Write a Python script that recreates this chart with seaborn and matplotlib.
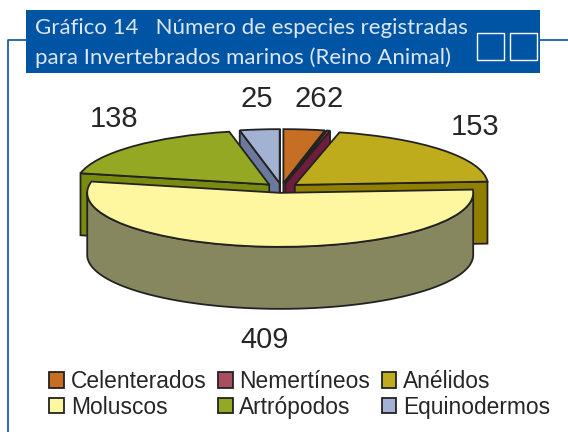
import numpy as np
import matplotlib
matplotlib.use('Agg')
import matplotlib.pyplot as plt
import seaborn as sns
from matplotlib.lines import Line2D
from matplotlib.patches import Rectangle

sns.set_theme(style='white', rc={'font.family': ['Liberation Sans', 'DejaVu Sans']})

## Data.
categories = ['Celenterados', 'Nemertíneos', 'Anélidos', 'Moluscos', 'Artrópodos', 'Equinodermos']
species = [26, 2, 153, 409, 138, 25]

## Palettes.
top_colors = sns.color_palette(['#C76E25', '#A84E60', '#BFAC1C', '#FFF6A0', '#95A823', '#A3B2D3'])
side_colors = sns.color_palette(['#8A4F18', '#6F1D3D', '#918000', '#87875F', '#7A8C10', '#6B7A9C'])
edge = '#222222'
blue = '#0054A4'

## Layout, in pixels of the 568x432 canvas.
W, H = 568, 432
cx, cy, rx, ry = 281.5, 188, 193, 54
depth = 62 / ry
label_xy = [(311, 99), (335, 99), (475, 127), (265, 340), (114, 119), (257, 99)]
paint_order = [5, 4, 0, 1, 2, 3]

fig = plt.figure(figsize=(W / 100, H / 100), dpi=100)
ax = fig.add_axes([0, 0, 1, 1])

## Top faces.
wedges, _ = ax.pie(species, explode=[0.09] * 6, colors=top_colors, startangle=90, counterclock=False,
                   wedgeprops={'edgecolor': edge, 'linewidth': 1.3})

## Side faces.
for z, i in enumerate(paint_order):
    w = wedges[i]
    x0, y0 = w.center
    t1, t2 = w.theta1, w.theta2
    z0 = 2 + z * 3
    for t, normal in ((t1, t1 - 90), (t2, t2 + 90)):
        if np.sin(np.radians(normal)) >= 0:
            continue
        px, py = x0 + np.cos(np.radians(t)), y0 + np.sin(np.radians(t))
        ax.fill([x0, px, px, x0], [y0, py, py - depth, y0 - depth], facecolor=side_colors[i],
                edgecolor=edge, lw=1.3, zorder=z0)
    ang = np.radians(np.arange(t1, t2 + 0.5, 0.5))
    ang = ang[np.sin(ang) < 0.01]
    if len(ang):
        ex, ey = x0 + np.cos(ang), y0 + np.sin(ang)
        ax.fill(np.r_[ex, ex[::-1]], np.r_[ey, ey[::-1] - depth], facecolor=side_colors[i],
                edgecolor=edge, lw=1.3, zorder=z0 + 1)
    w.set_zorder(z0 + 2)

ax.set_aspect('auto')
ax.set_xlim(-cx / rx, (W - cx) / rx)
ax.set_ylim(-(H - cy) / ry, cy / ry)
ax.axis('off')

## Value labels.
for value, (x, y) in zip(species, label_xy):
    fig.text(x / W, 1 - y / H, str(value), ha='center', va='center', fontsize=21, color='#262626')

## Legend.
order = [0, 3, 1, 4, 2, 5]
ax.legend([wedges[i] for i in order], [categories[i] for i in order], ncol=3, frameon=False,
          loc='upper left', bbox_to_anchor=(49 / W, 1 - 370 / H), bbox_transform=fig.transFigure,
          fontsize=16.4, labelcolor='#262626', borderpad=0, borderaxespad=0, handlelength=0.65,
          handleheight=0.65, handletextpad=0.3, columnspacing=0.5, labelspacing=0.12)

## Frame lines and header.
for xs, ys in [([8, 8, 26], [432, 40, 40]), ([540, 568], [40, 40])]:
    fig.add_artist(Line2D([x / W for x in xs], [1 - y / H for y in ys], color=blue, lw=1.2))
fig.add_artist(Rectangle((26 / W, 1 - 73 / H), 514 / W, 63 / H, transform=fig.transFigure,
                         facecolor=blue, edgecolor='none'))
for x in (477, 510):
    fig.add_artist(Rectangle((x / W, 1 - 60 / H), 27 / W, 27 / H, transform=fig.transFigure,
                             facecolor='none', edgecolor='white', lw=1))
header = ['Gráfico 14   Número de especies registradas', 'para Invertebrados marinos (Reino Animal)']
for line, y in zip(header, (28, 58)):
    fig.text(35 / W, 1 - y / H, line, ha='left', va='center', fontsize=16, color='#DCE6F4',
             family=['Lato', 'DejaVu Sans'])

plt.savefig('out.png', dpi=100)
